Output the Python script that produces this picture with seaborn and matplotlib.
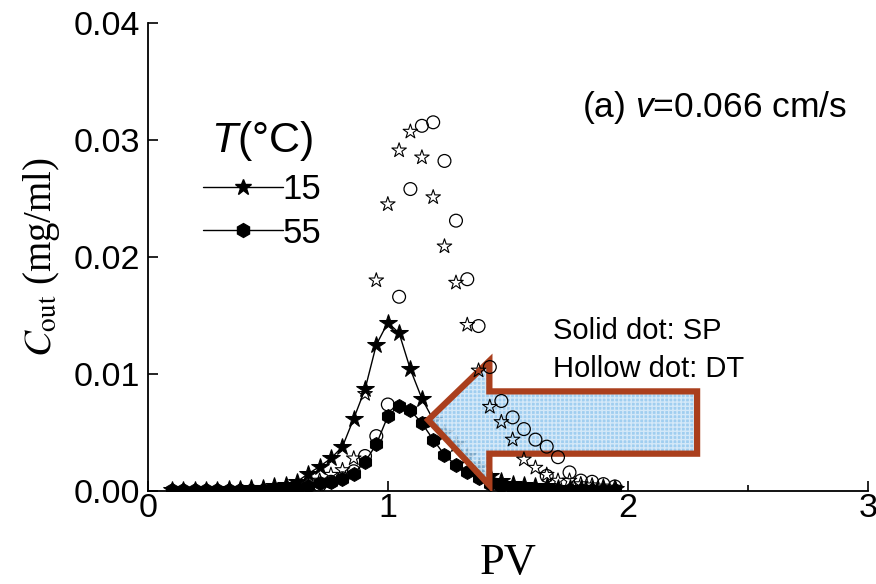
import matplotlib
matplotlib.use('Agg')
import matplotlib.pyplot as plt
import seaborn as sns
from matplotlib.patches import Polygon
from matplotlib.lines import Line2D

# ---------------- data ----------------
pv = [0.100, 0.147, 0.195, 0.242, 0.289, 0.337, 0.384, 0.431, 0.478, 0.526,
      0.573, 0.620, 0.668, 0.715, 0.762, 0.810, 0.857, 0.904, 0.951, 0.999,
      1.046, 1.093, 1.141, 1.188, 1.235, 1.283, 1.330, 1.377, 1.424, 1.472,
      1.519, 1.566, 1.614, 1.661, 1.708, 1.756, 1.803, 1.850, 1.897, 1.945]

# SP (solid dots, with line)
sp15 = [0.0001, 0.0001, 0.0001, 0.0001, 0.0001, 0.0002, 0.0002, 0.0003, 0.0003, 0.0004,
        0.0005, 0.0008, 0.0015, 0.0021, 0.0028, 0.0038, 0.0062, 0.0087, 0.0125, 0.0144,
        0.0135, 0.0104, 0.0079, 0.0061, 0.0050, 0.0040, 0.0030, 0.0021, 0.0013, 0.0009,
        0.0006, 0.0005, 0.0004, 0.0004, 0.0003, 0.0003, 0.0003, 0.0002, 0.0002, 0.0002]
sp55 = [0.0001, 0.0001, 0.0001, 0.0001, 0.0001, 0.0001, 0.0001, 0.0001, 0.0001, 0.0002,
        0.0002, 0.0003, 0.0004, 0.0007, 0.0008, 0.0010, 0.0015, 0.0025, 0.0040, 0.0064,
        0.0073, 0.0069, 0.0058, 0.0044, 0.0031, 0.0022, 0.0016, 0.0011, 0.0006, 0.0004,
        0.0003, 0.0002, 0.0002, 0.0002, 0.0001, 0.0001, 0.0001, 0.0001, 0.0001, 0.0001]

# DT (hollow dots, no line)
dt15_pv = [0.620, 0.668, 0.715, 0.762, 0.810, 0.857, 0.904, 0.951, 0.999, 1.046,
           1.093, 1.141, 1.188, 1.235, 1.283, 1.330, 1.377, 1.424, 1.472, 1.519,
           1.566, 1.614, 1.661, 1.708, 1.756, 1.803, 1.850, 1.897, 1.945]
dt15 = [0.0003, 0.0005, 0.0009, 0.0014, 0.0018, 0.0028, 0.0083, 0.0180, 0.0245, 0.0291,
        0.0307, 0.0285, 0.0251, 0.0209, 0.0178, 0.0142, 0.0103, 0.0072, 0.0059, 0.0044,
        0.0027, 0.0020, 0.0014, 0.0009, 0.0009, 0.0006, 0.0005, 0.0004, 0.0003]
dt55_pv = [0.715, 0.762, 0.810, 0.857, 0.904, 0.951, 0.999, 1.046, 1.093, 1.141,
           1.188, 1.235, 1.283, 1.330, 1.377, 1.424, 1.472, 1.519, 1.566, 1.614,
           1.661, 1.661, 1.708, 1.756, 1.803, 1.850, 1.897, 1.945]
dt55 = [0.0005, 0.0008, 0.0011, 0.0017, 0.0030, 0.0047, 0.0074, 0.0166, 0.0258, 0.0312,
        0.0315, 0.0282, 0.0231, 0.0181, 0.0141, 0.0106, 0.0077, 0.0063, 0.0053, 0.0044,
        0.0038, 0.0013, 0.0029, 0.0016, 0.0009, 0.0008, 0.0006, 0.0004]

legend_labels = ['15', '55']
x_ticks = [0, 1, 2, 3]
y_ticks = [0.00, 0.01, 0.02, 0.03, 0.04]

# ---------------- style ----------------
sns.set_style('ticks')
plt.rcParams['font.family'] = ['Liberation Sans', 'DejaVu Sans']
plt.rcParams['mathtext.fontset'] = 'custom'
plt.rcParams['mathtext.it'] = 'Liberation Sans:italic'
plt.rcParams['mathtext.rm'] = 'Liberation Sans'
plt.rcParams['axes.linewidth'] = 1.3
plt.rcParams['axes.edgecolor'] = 'black'
plt.rcParams['text.color'] = 'black'
plt.rcParams['axes.labelcolor'] = 'black'
plt.rcParams['xtick.color'] = 'black'
plt.rcParams['ytick.color'] = 'black'

fig = plt.figure(figsize=(8.76, 5.84), dpi=100)
ax = fig.add_axes([0.169, 0.159, 0.822, 0.802])

# SP series (lines + filled markers)
sns.lineplot(x=pv, y=sp15, ax=ax, color='black', linewidth=1.0, marker='*',
             markersize=13, markeredgecolor='black', markerfacecolor='black', zorder=3)
sns.lineplot(x=pv, y=sp55, ax=ax, color='black', linewidth=1.0, marker='h',
             markersize=10, markeredgecolor='black', markerfacecolor='black', zorder=3)

# arrow (annotation, axes fraction)
arrow_pts = [(0.389, 0.152), (0.474, 0.278), (0.474, 0.213), (0.7625, 0.213),
             (0.7625, 0.080), (0.474, 0.080), (0.474, 0.0128)]
ax.add_patch(Polygon(arrow_pts, closed=True, transform=ax.transAxes,
                     facecolor='#8fc6ee', edgecolor='none', alpha=0.85, zorder=4))
ax.add_patch(Polygon(arrow_pts, closed=True, transform=ax.transAxes,
                     facecolor='none', edgecolor='white', hatch='++++', linewidth=0,
                     alpha=0.55, zorder=4))
ax.add_patch(Polygon(arrow_pts, closed=True, transform=ax.transAxes,
                     facecolor='none', edgecolor='#aa3f1d', linewidth=4.5,
                     joinstyle='miter', zorder=4.5))

# DT series (hollow markers)
sns.scatterplot(x=dt15_pv, y=dt15, ax=ax, marker='*', s=120, facecolor='none',
                edgecolor='black', linewidth=0.8, zorder=5)
sns.scatterplot(x=dt55_pv, y=dt55, ax=ax, marker='o', s=85, facecolor='none',
                edgecolor='black', linewidth=0.9, zorder=5)

ax.set_xlim(0, 3)
ax.set_ylim(0, 0.04)
ax.set_xticks(x_ticks)
ax.set_xticklabels([str(t) for t in x_ticks])
ax.set_xticks([0.5, 1.5, 2.5], minor=True)
ax.set_yticks(y_ticks)
ax.set_yticklabels([f'{t:.2f}' for t in y_ticks])
ax.tick_params(axis='both', which='major', direction='in', length=7, width=1.2,
               labelsize=24.5, pad=6)
ax.tick_params(axis='x', which='minor', direction='in', length=4, width=1.2)
ax.tick_params(axis='x', which='major', pad=1)
sns.despine(ax=ax)

ax.set_xlabel('PV', family='Liberation Serif', fontsize=32, labelpad=14)
ax.set_ylabel(r'$C_{\mathrm{out}}$ (mg/ml)', family='Liberation Serif', fontsize=28,
              math_fontfamily='stix', labelpad=8)

# legend
handles = [Line2D([], [], color='black', lw=1.0, marker='*', markersize=12),
           Line2D([], [], color='black', lw=1.0, marker='h', markersize=10)]
leg = ax.legend(handles, legend_labels, title=r'$T$(°C)', fontsize=25, title_fontsize=31,
                frameon=False, loc='upper left', bbox_to_anchor=(0.076, 0.795),
                borderpad=0, borderaxespad=0, handlelength=2.3, handletextpad=0.0,
                labelspacing=0.3)

ax.text(0.603, 0.82, r'(a) $v$=0.066 cm/s', transform=ax.transAxes, fontsize=25.5,
        va='center', ha='left')
ax.text(0.5625, 0.342, 'Solid dot: SP', transform=ax.transAxes, fontsize=21,
        va='center', ha='left')
ax.text(0.5625, 0.261, 'Hollow dot: DT', transform=ax.transAxes, fontsize=21,
        va='center', ha='left')

fig.savefig('out.png', dpi=100)
